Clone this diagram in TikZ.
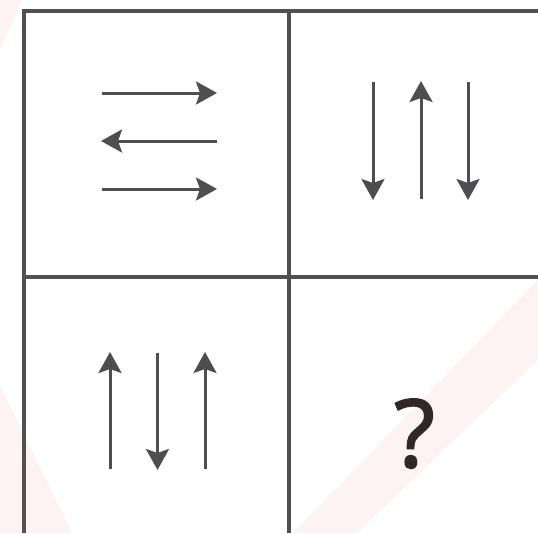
\documentclass[tikz,border=0pt]{standalone}
\usepackage{fontspec}
\newfontfamily\qfont[FakeBold=2]{Open Sans}
\usetikzlibrary{arrows.meta}
\definecolor{gridc}{RGB}{80,80,80}
\definecolor{arrc}{RGB}{78,78,80}
\definecolor{pinkc}{RGB}{254,243,243}
\definecolor{qc}{RGB}{48,40,40}
\tikzset{
  gridline/.style={draw=gridc, line width=3.4pt},
  arrline/.style={draw=arrc, line width=3pt, -{Stealth[length=21pt,width=23pt,inset=4pt]}},
}
\begin{document}
\begin{tikzpicture}[x=1pt,y=-1pt]
\useasboundingbox (0,0) rectangle (538,533);
\fill[white] (0,0) rectangle (538,533);
% faint watermark bands
\fill[pinkc] (0,0) -- (22,0) -- (0,50) -- cycle;
\fill[pinkc] (0,385) -- (72,533) -- (0,533) -- cycle;
\fill[pinkc] (293,533) -- (538,280) -- (538,360) -- (357,533) -- cycle;
% grid
\draw[gridline] (24,533) -- (24,11) -- (538,11);
\draw[gridline] (289,11) -- (289,533);
\draw[gridline] (24,277) -- (538,277);
% top-left: horizontal arrows
\coordinate (a1s) at (102,93);  \coordinate (a1e) at (217,93);
\coordinate (a2s) at (217,141); \coordinate (a2e) at (101,141);
\coordinate (a3s) at (102,189); \coordinate (a3e) at (217,189);
\draw[arrline] (a1s) -- (a1e);
\draw[arrline] (a2s) -- (a2e);
\draw[arrline] (a3s) -- (a3e);
% top-right: down, up, down
\coordinate (b1s) at (373,82);  \coordinate (b1e) at (373,200);
\coordinate (b2s) at (421,199); \coordinate (b2e) at (421,81);
\coordinate (b3s) at (468,82);  \coordinate (b3e) at (468,200);
\draw[arrline] (b1s) -- (b1e);
\draw[arrline] (b2s) -- (b2e);
\draw[arrline] (b3s) -- (b3e);
% bottom-left: up, down, up
\coordinate (c1s) at (110,469); \coordinate (c1e) at (110,352);
\coordinate (c2s) at (157.5,353); \coordinate (c2e) at (157.5,470);
\coordinate (c3s) at (205,469); \coordinate (c3e) at (205,352);
\draw[arrline] (c1s) -- (c1e);
\draw[arrline] (c2s) -- (c2e);
\draw[arrline] (c3s) -- (c3e);
% question mark
\node[anchor=base, inner sep=0pt, text=qc, font=\qfont\fontsize{94}{94}\selectfont] (q) at (414.5,467) {?};
\end{tikzpicture}
\end{document}
